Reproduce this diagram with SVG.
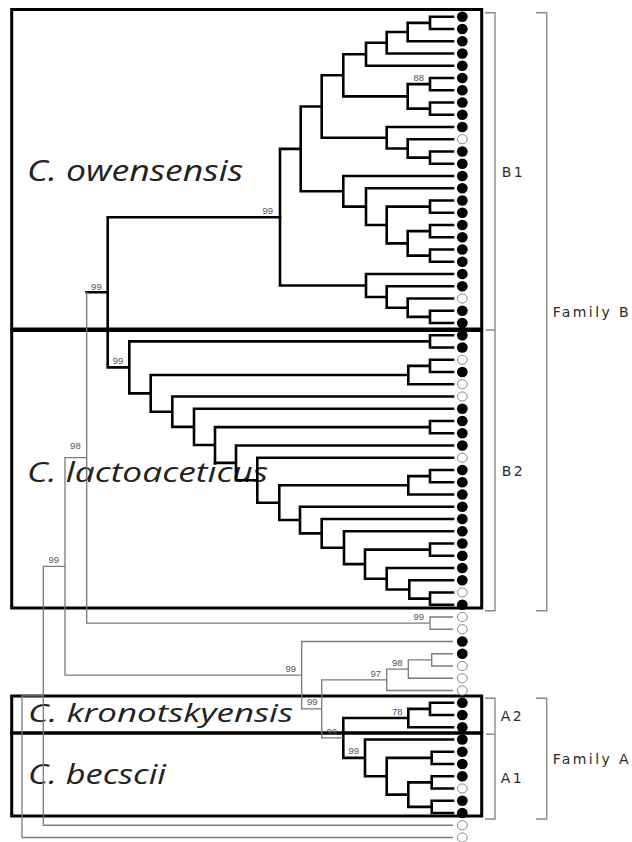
<svg xmlns="http://www.w3.org/2000/svg" width="632" height="842" viewBox="0 0 632 842">
<style>
.t{stroke:#000;stroke-width:2.6;fill:none;stroke-linecap:square}
.n{stroke:#7a7a7a;stroke-width:1.3;fill:none}
.box{stroke:#000;stroke-width:3;fill:none}
.br{stroke:#8a8a8a;stroke-width:1.4;fill:none}
.bs{font-family:"Open Sans","DejaVu Sans",sans-serif;font-style:italic;fill:#222}
.lab{font-family:"Liberation Sans",Arial,sans-serif;font-size:9.5px;fill:#555;text-anchor:end}
.cl{font-family:"DejaVu Sans",sans-serif;font-size:14px;fill:#2a2a2a;letter-spacing:2.4px}
.f{fill:#000}
.o{fill:#fff;stroke:#888;stroke-width:1}
</style>
<rect width="632" height="842" fill="#fff"/>
<g id="boxes">
<g id="box-owensensis"><rect class="box" x="11.7" y="9.5" width="470" height="319.5"/><text class="bs" x="27" y="181" font-size="30" textLength="216" lengthAdjust="spacingAndGlyphs">C. owensensis</text></g>
<g id="box-lactoaceticus"><rect class="box" x="11.7" y="330.5" width="470" height="277.5"/><text class="bs" x="27" y="482" font-size="28" textLength="241" lengthAdjust="spacingAndGlyphs">C. lactoaceticus</text></g>
<g id="box-kronotskyensis"><rect class="box" x="11.7" y="696" width="470" height="37"/><text class="bs" x="28" y="722" font-size="26" textLength="265" lengthAdjust="spacingAndGlyphs">C. kronotskyensis</text></g>
<g id="box-becscii"><rect class="box" x="11.7" y="733" width="470" height="83"/><text class="bs" x="28" y="784" font-size="28" textLength="138" lengthAdjust="spacingAndGlyphs">C. becscii</text></g>
</g>
<g id="connectors">
<path class="t" d="M453 16.75H430V29H453M430 22.88H407.7V41.25H453M407.7 32.06H386.7V53.5H453M386.7 42.78H366V65.75H453M453 78H430V90.25H453M453 102.5H430V114.75H453M430 84.13H407.7V108.63H430M366 54.27H343.3V96.38H407.7M453 151.5H430V163.75H453M453 139.25H407.7V157.63H430M453 127H386.7V148.44H407.7M343.3 75.32H321.7V137.72H386.7M453 200.5H430V212.75H453M453 225H430V237.25H453M453 249.5H430V261.75H453M430 231.13H407.7V255.63H430M430 206.63H386.7V243.38H407.7M453 188.25H366V225H386.7M453 176H343.3V206.63H366M321.7 106.52H300.7V191.31H343.3M453 310.75H430V323H453M453 298.5H407.7V316.88H430M453 286.25H386.7V307.69H407.7M453 274H366V296.97H386.7M300.7 148.92H280V285.48H366"/>
<path class="t" d="M453 335.25H430V347.5H453M453 359.75H430V372H453M430 365.88H408.3V384.25H453M453 421H430V433.25H453M453 470H430V482.25H453M430 476.13H408.3V494.5H453M453 543.5H430V555.75H453M453 592.5H430V604.75H453M453 580.25H409.3V598.63H430M453 568H386.7V589.44H409.3M430 549.63H365V578.72H386.7M453 531.25H344V564.17H365M453 519H321.7V547.71H344M453 506.75H300V533.36H321.7M408.3 485.31H279.3V520.05H300M453 457.75H257.3V502.68H279.3M453 445.5H236V480.22H257.3M430 427.13H215V462.86H236M453 408.75H194V444.99H215M453 396.5H172.3V426.87H194M408.3 375.06H150.7V411.69H172.3M430 341.38H129.3V393.38H150.7M280 217.2H107.7V367.38H129.3M107.7 292.29H86.7"/>
<path class="t" d="M453 702.75H430V715H453M430 708.88H408.3V727.25H453M453 751.75H431.7V764H453M453 776.25H431.7V788.5H453M453 800.75H431.7V813H453M431.7 782.38H408.3V806.88H431.7M431.7 757.88H386.7V794.63H408.3M453 739.5H365V776.25H386.7M408.3 718.06H343.3V757.88H365"/>
<path class="n" d="M453 617H430V629.25H453M86.7 292.29V623.13H430M453 653.75H431.7V666H453M431.7 659.88H408.3V678.25H453M408.3 669.06H386.7V690.5H453M386.7 679.78H321.7V737.97H343.3M453 641.5H301.7V708.88H321.7M86.7 457.71H65V675.19H301.7M65 566.45H43.3V825.25H453M43.3 695.85H22V837.5H453"/>
</g>
<g id="support">
<text class="lab" x="424" y="80.5">88</text>
<text class="lab" x="273" y="213.5">99</text>
<text class="lab" x="101.7" y="289.5">99</text>
<text class="lab" x="123.3" y="363.5">99</text>
<text class="lab" x="80.7" y="448.5">98</text>
<text class="lab" x="59" y="563">99</text>
<text class="lab" x="424" y="620">99</text>
<text class="lab" x="296" y="672">99</text>
<text class="lab" x="381" y="676.5">97</text>
<text class="lab" x="402.5" y="666">98</text>
<text class="lab" x="317.5" y="705">99</text>
<text class="lab" x="402.5" y="714.5">78</text>
<text class="lab" x="337" y="734.5">99</text>
<text class="lab" x="359" y="754">99</text>
</g>
<g id="leaves">
<g class="f">
<ellipse cx="462.3" cy="16.75" rx="5.4" ry="5.2"/><ellipse cx="462.3" cy="29" rx="5.4" ry="5.2"/><ellipse cx="462.3" cy="41.25" rx="5.4" ry="5.2"/><ellipse cx="462.3" cy="53.5" rx="5.4" ry="5.2"/><ellipse cx="462.3" cy="65.75" rx="5.4" ry="5.2"/><ellipse cx="462.3" cy="78" rx="5.4" ry="5.2"/><ellipse cx="462.3" cy="90.25" rx="5.4" ry="5.2"/><ellipse cx="462.3" cy="102.5" rx="5.4" ry="5.2"/><ellipse cx="462.3" cy="114.75" rx="5.4" ry="5.2"/><ellipse cx="462.3" cy="127" rx="5.4" ry="5.2"/><ellipse cx="462.3" cy="151.5" rx="5.4" ry="5.2"/><ellipse cx="462.3" cy="163.75" rx="5.4" ry="5.2"/><ellipse cx="462.3" cy="176" rx="5.4" ry="5.2"/><ellipse cx="462.3" cy="188.25" rx="5.4" ry="5.2"/><ellipse cx="462.3" cy="200.5" rx="5.4" ry="5.2"/><ellipse cx="462.3" cy="212.75" rx="5.4" ry="5.2"/><ellipse cx="462.3" cy="225" rx="5.4" ry="5.2"/><ellipse cx="462.3" cy="237.25" rx="5.4" ry="5.2"/><ellipse cx="462.3" cy="249.5" rx="5.4" ry="5.2"/><ellipse cx="462.3" cy="261.75" rx="5.4" ry="5.2"/><ellipse cx="462.3" cy="274" rx="5.4" ry="5.2"/><ellipse cx="462.3" cy="286.25" rx="5.4" ry="5.2"/><ellipse cx="462.3" cy="310.75" rx="5.4" ry="5.2"/><ellipse cx="462.3" cy="323" rx="5.4" ry="5.2"/>
<ellipse cx="462.3" cy="335.25" rx="5.4" ry="5.2"/><ellipse cx="462.3" cy="347.5" rx="5.4" ry="5.2"/><ellipse cx="462.3" cy="372" rx="5.4" ry="5.2"/><ellipse cx="462.3" cy="408.75" rx="5.4" ry="5.2"/><ellipse cx="462.3" cy="421" rx="5.4" ry="5.2"/><ellipse cx="462.3" cy="433.25" rx="5.4" ry="5.2"/><ellipse cx="462.3" cy="445.5" rx="5.4" ry="5.2"/><ellipse cx="462.3" cy="470" rx="5.4" ry="5.2"/><ellipse cx="462.3" cy="482.25" rx="5.4" ry="5.2"/><ellipse cx="462.3" cy="494.5" rx="5.4" ry="5.2"/><ellipse cx="462.3" cy="506.75" rx="5.4" ry="5.2"/><ellipse cx="462.3" cy="519" rx="5.4" ry="5.2"/><ellipse cx="462.3" cy="531.25" rx="5.4" ry="5.2"/><ellipse cx="462.3" cy="543.5" rx="5.4" ry="5.2"/><ellipse cx="462.3" cy="555.75" rx="5.4" ry="5.2"/><ellipse cx="462.3" cy="568" rx="5.4" ry="5.2"/><ellipse cx="462.3" cy="580.25" rx="5.4" ry="5.2"/><ellipse cx="462.3" cy="604.75" rx="5.4" ry="5.2"/>
<ellipse cx="462.3" cy="641.5" rx="5.4" ry="5.2"/><ellipse cx="462.3" cy="653.75" rx="5.4" ry="5.2"/><ellipse cx="462.3" cy="702.75" rx="5.4" ry="5.2"/><ellipse cx="462.3" cy="715" rx="5.4" ry="5.2"/><ellipse cx="462.3" cy="727.25" rx="5.4" ry="5.2"/><ellipse cx="462.3" cy="739.5" rx="5.4" ry="5.2"/><ellipse cx="462.3" cy="751.75" rx="5.4" ry="5.2"/><ellipse cx="462.3" cy="764" rx="5.4" ry="5.2"/><ellipse cx="462.3" cy="776.25" rx="5.4" ry="5.2"/><ellipse cx="462.3" cy="800.75" rx="5.4" ry="5.2"/><ellipse cx="462.3" cy="813" rx="5.4" ry="5.2"/>
</g>
<g class="o">
<ellipse cx="462.3" cy="139.25" rx="4.9" ry="4.6"/><ellipse cx="462.3" cy="298.5" rx="4.9" ry="4.6"/><ellipse cx="462.3" cy="359.75" rx="4.9" ry="4.6"/><ellipse cx="462.3" cy="384.25" rx="4.9" ry="4.6"/><ellipse cx="462.3" cy="396.5" rx="4.9" ry="4.6"/><ellipse cx="462.3" cy="457.75" rx="4.9" ry="4.6"/><ellipse cx="462.3" cy="592.5" rx="4.9" ry="4.6"/><ellipse cx="462.3" cy="617" rx="4.9" ry="4.6"/><ellipse cx="462.3" cy="629.25" rx="4.9" ry="4.6"/><ellipse cx="462.3" cy="666" rx="4.9" ry="4.6"/><ellipse cx="462.3" cy="678.25" rx="4.9" ry="4.6"/><ellipse cx="462.3" cy="690.5" rx="4.9" ry="4.6"/><ellipse cx="462.3" cy="788.5" rx="4.9" ry="4.6"/><ellipse cx="462.3" cy="825.25" rx="4.9" ry="4.6"/><ellipse cx="462.3" cy="837.5" rx="4.9" ry="4.6"/>
</g>
</g>
<g id="brackets">
<path class="br" d="M485 12.7H495V330M486 330H495V610.7H485M536 12.7H546.7V610.7H536M485 698.3H495V734.3M486 734.3H495V819H485M536 698.3H546.7V819H536"/>
<text class="cl" x="501.7" y="177">B1</text>
<text class="cl" x="501.7" y="475.5">B2</text>
<text class="cl" x="500.7" y="721">A2</text>
<text class="cl" x="500.7" y="782.5">A1</text>
<text class="cl" x="552.7" y="317">Family B</text>
<text class="cl" x="552.7" y="764">Family A</text>
</g>
</svg>
